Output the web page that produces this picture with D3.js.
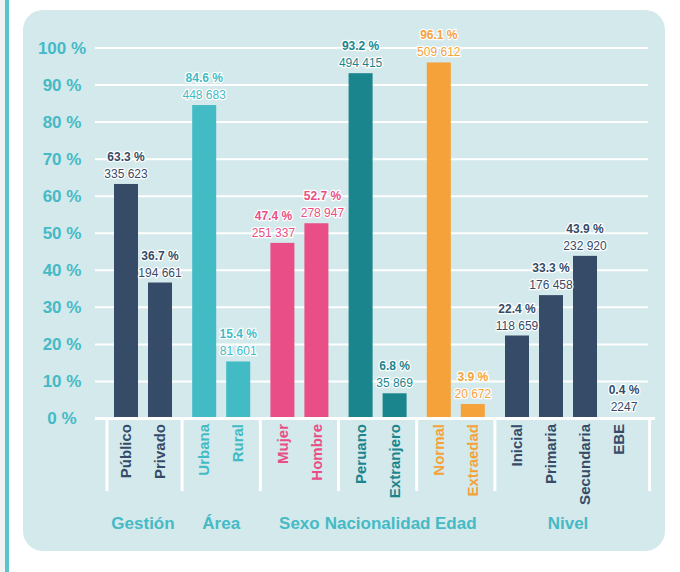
<!DOCTYPE html>
<html>
<head>
<meta charset="utf-8">
<script src="https://cdn.jsdelivr.net/npm/d3@7"></script>
<style>
  body { margin: 0; background: #fff; }
  text { font-family: "Liberation Sans", Arial, sans-serif; }
</style>
</head>
<body>
<div id="wrapper"></div>
<script>
const categories = ["Público", "Privado", "Urbana", "Rural", "Mujer", "Hombre", "Peruano", "Extranjero", "Normal", "Extraedad", "Inicial", "Primaria", "Secundaria", "EBE"];
const categoryGroup = [0, 0, 1, 1, 2, 2, 3, 3, 4, 4, 5, 5, 5, 5];
const percents = [63.3, 36.7, 84.6, 15.4, 47.4, 52.7, 93.2, 6.8, 96.1, 3.9, 22.4, 33.3, 43.9, 0.4];
const counts = [335623, 194661, 448683, 81601, 251337, 278947, 494415, 35869, 509612, 20672, 118659, 176458, 232920, 2247];
const groups = ["Gestión", "Área", "Sexo", "Nacionalidad", "Edad", "Nivel"];
const groupColors = ["#354b68", "#42bbc5", "#e94f86", "#1a858d", "#f5a23a", "#354b68"];
const yTicks = [0, 10, 20, 30, 40, 50, 60, 70, 80, 90, 100];

function build() {

  const dimension = {
    width: 680,
    height: 572,
    panel: {x: 23, y: 10, width: 642, height: 541, r: 20},
  };

  // labels moved sideways so neighbours don't collide
  const labelNudge = {Mujer: -9, Hombre: 6, EBE: 5};

  const groupGap = 0.3;
  const data = categories.map((name, i) => ({
    name,
    group: categoryGroup[i],
    pos: i + categoryGroup[i]*groupGap,
    pct: percents[i],
    count: counts[i],
  }));

  const x = d3.scaleLinear()
    .domain([0, 14.5])
    .range([126, 619]);

  const y = d3.scaleLinear()
    .domain([0, 100])
    .range([418.5, 48]);

  const fmtPct = (v) => d3.format(".1f")(v) + " %";
  const fmtCount = (v) => v >= 10000 ? d3.format(",")(v).replace(/,/g, " ") : String(v);

  const wrapper = d3.select("#wrapper")
    .append("svg")
    .attr("width", dimension.width)
    .attr("height", dimension.height);

  // left page strip
  wrapper.append("rect").attr("x", 0).attr("y", 0).attr("width", 5).attr("height", dimension.height).style("fill", "#f1f3f2");
  wrapper.append("rect").attr("x", 5).attr("y", 0).attr("width", 4).attr("height", dimension.height).style("fill", "#5ac4cd");

  wrapper.append("rect")
    .attr("x", dimension.panel.x)
    .attr("y", dimension.panel.y)
    .attr("width", dimension.panel.width)
    .attr("height", dimension.panel.height)
    .attr("rx", dimension.panel.r)
    .style("fill", "#d3e9eb");

  // gridlines
  wrapper.append("g")
    .selectAll("line")
    .data(yTicks.filter(d => d > 0))
    .enter()
    .append("line")
    .attr("x1", 95)
    .attr("x2", 648)
    .attr("y1", d => y(d))
    .attr("y2", d => y(d))
    .style("stroke", "#fff")
    .style("stroke-width", 2);

  wrapper.append("g")
    .selectAll("text")
    .data(yTicks)
    .enter()
    .append("text")
    .attr("x", 62)
    .attr("y", d => y(d))
    .attr("dy", "0.35em")
    .text(d => d + " %")
    .style("text-anchor", "middle")
    .style("font-size", "17px")
    .style("font-weight", "bold")
    .style("fill", "#45bac6");

  // bars
  const barWidth = 24;
  wrapper.append("g")
    .selectAll("rect")
    .data(data)
    .enter()
    .append("rect")
    .attr("x", d => x(d.pos) - barWidth/2)
    .attr("y", d => y(d.pct))
    .attr("width", barWidth)
    .attr("height", d => y(0) - y(d.pct))
    .style("fill", d => groupColors[d.group]);

  // baseline
  wrapper.append("line")
    .attr("x1", 95)
    .attr("x2", 655)
    .attr("y1", y(0))
    .attr("y2", y(0))
    .style("stroke", "#fff")
    .style("stroke-width", 3);

  // value labels
  const labels = wrapper.append("g")
    .selectAll("g")
    .data(data)
    .enter()
    .append("g")
    .attr("transform", d => `translate(${x(d.pos) + (labelNudge[d.name] || 0)},${y(d.pct) - 6})`)
    .style("fill", d => groupColors[d.group])
    .style("font-size", "12px")
    .style("text-anchor", "middle")
    .style("stroke", "#fff")
    .style("stroke-width", 2.5)
    .style("stroke-linejoin", "round")
    .style("paint-order", "stroke");

  labels.append("text")
    .attr("y", -17)
    .text(d => fmtPct(d.pct))
    .style("font-weight", "bold");

  labels.append("text")
    .attr("y", 0)
    .text(d => fmtCount(d.count));

  // group separators
  const bounds = [];
  groups.forEach((g, gi) => {
    const members = data.filter(d => d.group === gi);
    bounds.push({first: members[0].pos, last: members[members.length - 1].pos});
  });
  const sepPos = [bounds[0].first - 0.56];
  for (let i = 0; i < bounds.length - 1; i++) {
    sepPos.push((bounds[i].last + bounds[i + 1].first)/2);
  }
  sepPos.push(bounds[bounds.length - 1].last + 0.9);

  wrapper.append("g")
    .selectAll("line")
    .data(sepPos)
    .enter()
    .append("line")
    .attr("x1", d => x(d))
    .attr("x2", d => x(d))
    .attr("y1", y(0))
    .attr("y2", 491)
    .style("stroke", "#fff")
    .style("stroke-width", 3);

  // category names
  wrapper.append("g")
    .selectAll("text")
    .data(data)
    .enter()
    .append("text")
    .attr("transform", d => `translate(${x(d.pos)},424) rotate(-90)`)
    .attr("dy", "0.35em")
    .text(d => d.name)
    .style("text-anchor", "end")
    .style("font-size", "15px")
    .style("font-weight", "bold")
    .style("fill", d => groupColors[d.group]);

  // group names
  wrapper.append("g")
    .selectAll("text")
    .data(bounds)
    .enter()
    .append("text")
    .attr("x", d => x((d.first + d.last)/2))
    .attr("y", 529)
    .text((d, i) => groups[i])
    .style("text-anchor", "middle")
    .style("font-size", "17px")
    .style("font-weight", "bold")
    .style("fill", "#45bac6");
}

build();
</script>
</body>
</html>
